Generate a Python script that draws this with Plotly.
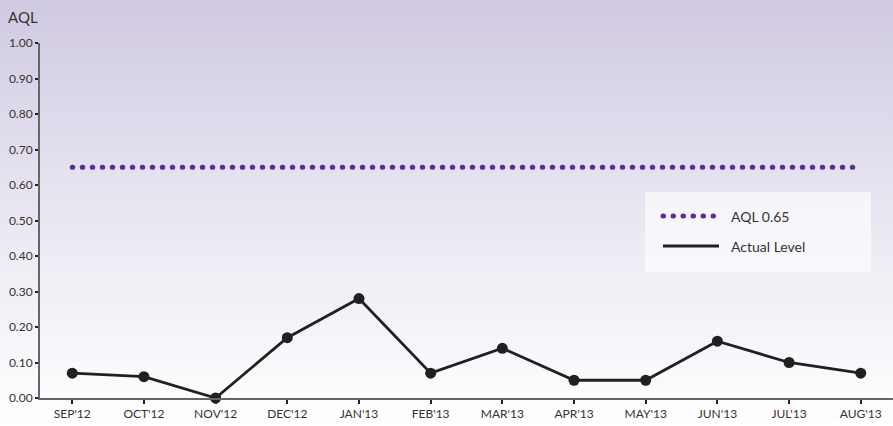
import base64
import plotly.graph_objects as go

months = ["SEP'12", "OCT'12", "NOV'12", "DEC'12", "JAN'13", "FEB'13",
          "MAR'13", "APR'13", "MAY'13", "JUN'13", "JUL'13", "AUG'13"]
actual = [0.07, 0.06, 0.00, 0.17, 0.28, 0.07, 0.14, 0.05, 0.05, 0.16, 0.10, 0.07]
aql_value = 0.65
aql = [aql_value] * len(months)
y_ticks = [0.0, 0.1, 0.2, 0.3, 0.4, 0.5, 0.6, 0.7, 0.8, 0.9, 1.0]
y_labels = ["%.2f" % v for v in y_ticks]

W, H = 893, 426
L, R, T, B = 40, 0, 43, 28
pw, ph = W - L - R, H - T - B

FONT = "Lato, 'Open Sans', sans-serif"
TXT = "#333333"
PURPLE = "#5a2d9b"
DARK = "#231f20"
DOTS = dict(color=PURPLE, width=5, dash="0.5px,9.5px")

svg = ('<svg xmlns="http://www.w3.org/2000/svg" width="893" height="426" preserveAspectRatio="none">'
       '<defs><linearGradient id="g" x1="0" y1="0" x2="0" y2="1">'
       '<stop offset="0" stop-color="#d0c9e2"/><stop offset="0.55" stop-color="#ece9f3"/>'
       '<stop offset="1" stop-color="#ffffff"/></linearGradient></defs>'
       '<rect width="893" height="426" fill="url(#g)"/></svg>')
src = "data:image/svg+xml;base64," + base64.b64encode(svg.encode()).decode()

fig = go.Figure()
fig.add_trace(go.Scatter(
    x=months, y=aql, mode="lines", name="AQL 0.65",
    line=DOTS, showlegend=False,
))
fig.add_trace(go.Scatter(
    x=months, y=actual, mode="lines+markers", name="Actual Level",
    line=dict(color=DARK, width=2.8),
    marker=dict(color=DARK, size=11), cliponaxis=False, showlegend=False,
))

# manual legend
lx0, lx1 = (645 - L) / pw, (871 - L) / pw
ly1, ly0 = (H - B - 192) / ph, (H - B - 272) / ph
fig.add_shape(type="rect", xref="paper", yref="paper", x0=lx0, x1=lx1, y0=ly0, y1=ly1,
              fillcolor="rgba(255,255,255,0.6)", line=dict(width=0), layer="below")
for i, (name, style) in enumerate([("AQL 0.65", DOTS),
                                   ("Actual Level", dict(color=DARK, width=2.8))]):
    yy = (H - B - (216 + 30 * i)) / ph
    fig.add_shape(type="line", xref="paper", yref="paper",
                  x0=(663 - L) / pw, x1=(719 - L) / pw, y0=yy, y1=yy, line=style)
    fig.add_annotation(text=name, xref="paper", yref="paper", x=(729 - L) / pw, y=yy,
                       xanchor="left", yanchor="middle", showarrow=False,
                       font=dict(size=14, color=TXT, family=FONT))

fig.add_annotation(text="AQL", xref="paper", yref="paper", x=-(L - 6) / pw, y=1 + (T - 17) / ph,
                   xanchor="left", yanchor="middle", showarrow=False,
                   font=dict(size=15, color=TXT, family=FONT))

fig.add_layout_image(dict(source=src, xref="paper", yref="paper",
                          x=-L / pw, y=1 + T / ph, sizex=W / pw, sizey=H / ph,
                          sizing="stretch", xanchor="left", yanchor="top", layer="below"))

fig.update_layout(
    width=W, height=H, margin=dict(l=L, r=R, t=T, b=B),
    paper_bgcolor="#ffffff", plot_bgcolor="rgba(0,0,0,0)",
    font=dict(family=FONT, size=12, color=TXT),
    showlegend=False,
    xaxis=dict(type="category", range=[-0.45, 11.45], showgrid=False, zeroline=False,
               showline=True, linecolor="#666666", linewidth=2,
               ticks="outside", ticklen=4, tickwidth=2, tickcolor="#222222",
               tickfont=dict(size=12, color=TXT)),
    yaxis=dict(range=[0, 1], tickvals=y_ticks, ticktext=y_labels, showgrid=False,
               zeroline=False, showline=True, linecolor="#666666", linewidth=2,
               ticks="outside", ticklen=3, tickwidth=2, tickcolor="#222222",
               tickfont=dict(size=12, color=TXT)),
)

post = """
document.body.style.margin='0';
function roundDots(){
  document.querySelectorAll('path').forEach(function(p){
    var d = p.style.strokeDasharray || p.getAttribute('stroke-dasharray');
    if (d && d !== 'none') { p.style.strokeLinecap = 'round'; }
  });
}
roundDots();
setTimeout(roundDots, 50);
"""
fig.write_html("out.html", post_script=post, config={"displayModeBar": False})
